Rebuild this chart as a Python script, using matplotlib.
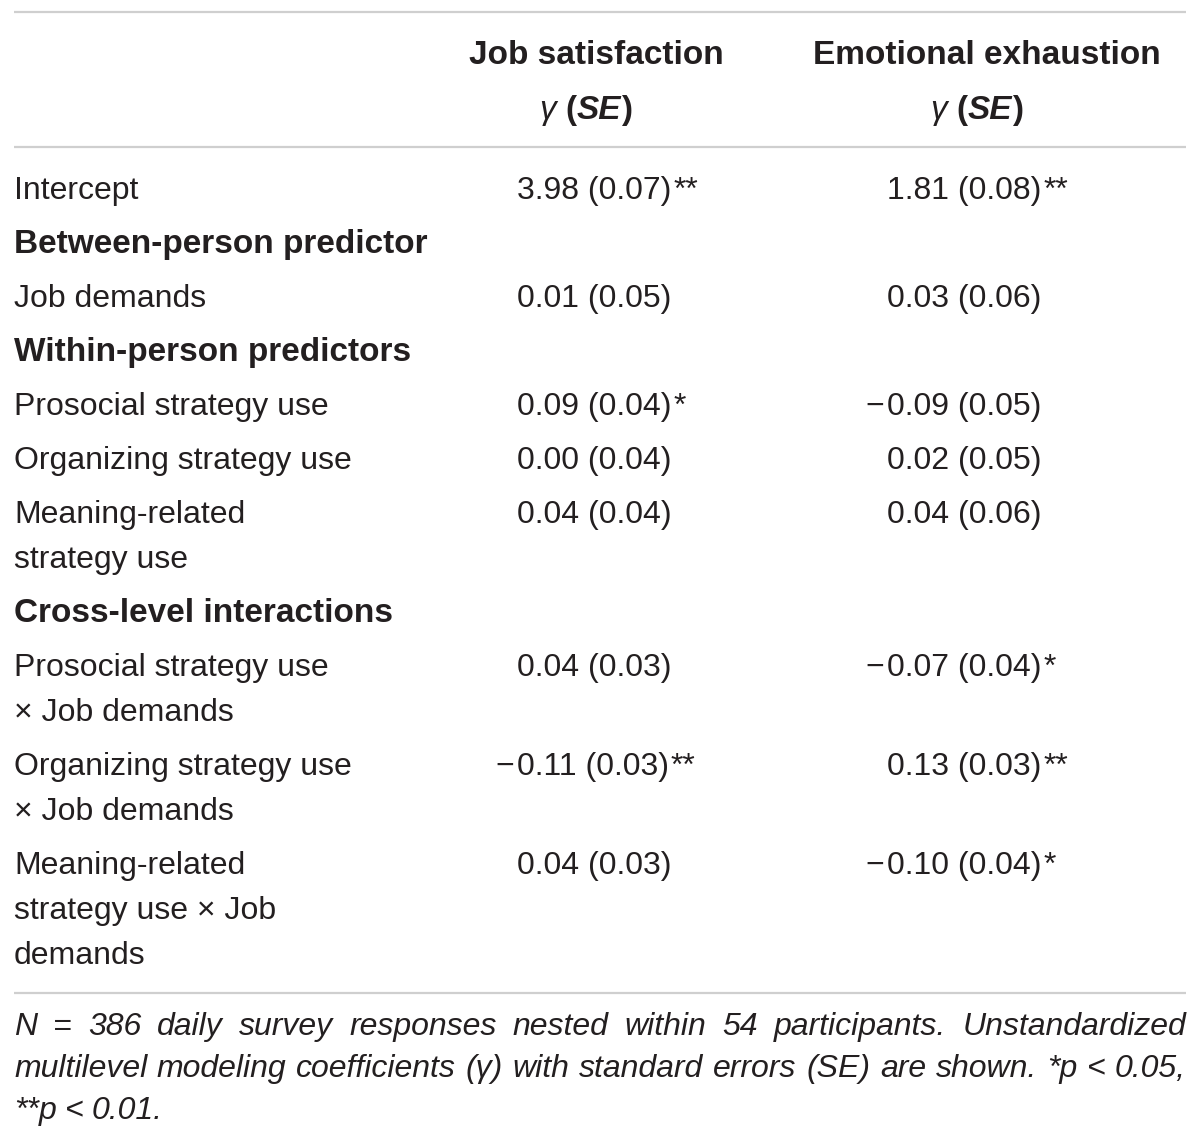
import matplotlib
matplotlib.use("Agg")
import matplotlib.pyplot as plt

plt.rcParams['font.family'] = ['Liberation Sans', 'DejaVu Sans']

# table content
col_titles = ["Job satisfaction", "Emotional exhaustion"]
row_labels = ["Intercept",
              "Between-person predictor",
              "Job demands",
              "Within-person predictors",
              "Prosocial strategy use",
              "Organizing strategy use",
              "Meaning-related\nstrategy use",
              "Cross-level interactions",
              "Prosocial strategy use\n\u00d7 Job demands",
              "Organizing strategy use\n\u00d7 Job demands",
              "Meaning-related\nstrategy use \u00d7 Job\ndemands"]
is_section = [False, True, False, True, False, False, False, True, False, False, False]

js_gamma = [3.98, None, 0.01, None, 0.09, 0.00, 0.04, None, 0.04, -0.11, 0.04]
js_se = [0.07, None, 0.05, None, 0.04, 0.04, 0.04, None, 0.03, 0.03, 0.03]
js_sig = ["**", "", "", "", "*", "", "", "", "", "**", ""]
ee_gamma = [1.81, None, 0.03, None, -0.09, 0.02, 0.04, None, -0.07, 0.13, -0.10]
ee_se = [0.08, None, 0.06, None, 0.05, 0.05, 0.06, None, 0.04, 0.03, 0.04]
ee_sig = ["**", "", "", "", "", "", "", "", "*", "**", "*"]

note_lines = ["N = 386 daily survey responses nested within 54 participants. Unstandardized",
              "multilevel modeling coefficients (\u03b3) with standard errors (SE) are shown. *p < 0.05,",
              "**p < 0.01."]

W, H = 1200, 1141
FS = 23
FS_BOLD = 24
FS_NOTE = 23
TXT = '#231f20'
RULE = '#cfcfcf'

fig = plt.figure(figsize=(W / 100, H / 100), dpi=100)
ax = fig.add_axes([0, 0, 1, 1])
ax.set_xlim(0, W)
ax.set_ylim(H, 0)
ax.axis('off')
rend = fig.canvas.get_renderer()


def width(t):
    return t.get_window_extent(renderer=rend).width


def runs(x, y, pieces, center=False):
    # pieces: list of (string, weight, style)
    ts = []
    cx = x
    for s, wt, st in pieces:
        t = ax.text(cx, y, s, fontsize=FS_BOLD, fontweight=wt, fontstyle=st,
                    color=TXT, va='baseline', ha='left')
        cx += width(t)
        ts.append(t)
    if center:
        shift = (cx - x) / 2
        for t in ts:
            t.set_x(t.get_position()[0] - shift)
    return cx


# rules
for yy in [12, 147, 993]:
    ax.plot([14, 1186], [yy, yy], color=RULE, lw=1.6, solid_capstyle='butt')

# header
col_centers = [596, 987]
for cx, title in zip(col_centers, col_titles):
    ax.text(cx, 64, title, fontsize=FS_BOLD, fontweight='bold', color=TXT,
            ha='center', va='baseline')
    runs(cx - 10, 119, [("\u03b3 ", 'normal', 'italic'), ("(", 'bold', 'normal'),
                        ("SE", 'bold', 'italic'), (")", 'bold', 'normal')], center=True)

# body
col_x = [517, 887]
y = 188
for i, lab in enumerate(row_labels):
    nlines = lab.count("\n") + 1
    for k, line in enumerate(lab.split("\n")):
        ax.text(14, y + 11 + 45 * k, line, color=TXT,
                fontsize=FS_BOLD if is_section[i] else FS,
                fontweight='bold' if is_section[i] else 'normal',
                va='baseline', ha='left')
    for cx, g, se, sig in [(col_x[0], js_gamma[i], js_se[i], js_sig[i]),
                           (col_x[1], ee_gamma[i], ee_se[i], ee_sig[i])]:
        if g is None:
            continue
        s = f"{abs(g):.2f} ({se:.2f})"
        t = ax.text(cx, y + 11, s, fontsize=FS, color=TXT, va='baseline', ha='left')
        # minus hangs left so the digits line up
        if g < 0:
            ax.text(cx - 3, y + 11, "\u2212", fontsize=FS, color=TXT,
                    va='baseline', ha='right')
        if sig:
            ax.text(cx + width(t) + 2, y + 11, sig, fontsize=FS, color=TXT,
                    va='baseline', ha='left')
    y += 45 * (nlines - 1) + 54

# note, justified for the full lines
note_base = [1035, 1077, 1119]
for j, (line, yb) in enumerate(zip(note_lines, note_base)):
    words = line.split(" ")
    ts = [ax.text(0, yb, w, fontsize=FS_NOTE, fontstyle='italic', color=TXT,
                  va='baseline', ha='left') for w in words]
    ws = [width(t) for t in ts]
    if j < len(note_lines) - 1:
        gap = (1186 - 14 - sum(ws)) / (len(words) - 1)
    else:
        gap = 8
    cx = 14
    for t, w in zip(ts, ws):
        t.set_x(cx)
        cx += w + gap

fig.savefig("out.png", dpi=100, facecolor='white')
